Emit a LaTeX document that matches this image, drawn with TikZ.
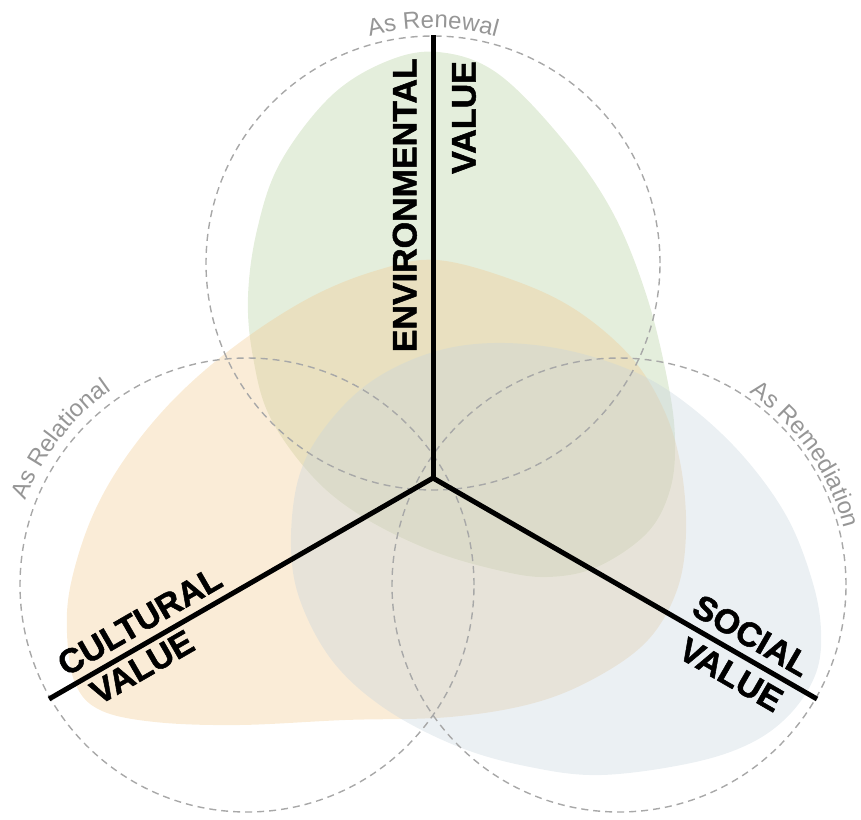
\documentclass[tikz,border=0pt]{standalone}
\usepackage{fontspec}
\setmainfont{Liberation Sans}
\newfontfamily\valuefont[FakeBold=1.5]{Liberation Sans Bold}
\usetikzlibrary{calc,decorations.text}
\definecolor{envgreen}{RGB}{178,206,155}
\definecolor{culturalorange}{RGB}{241,201,141}
\definecolor{socialblue}{RGB}{198,212,221}
\definecolor{ringgray}{RGB}{168,168,168}
\definecolor{tagtextgray}{RGB}{150,150,150}
\newcommand{\tagfont}{\fontsize{24}{24}\selectfont\color{tagtextgray}}

\begin{document}
\begin{tikzpicture}[x=1pt, y=1pt,
    blob/.style={fill=#1, fill opacity=0.35},
    ring/.style={draw=ringgray, line width=1.4pt, dash pattern=on 7pt off 5pt},
    axis/.style={line width=5pt},
    valuelabel/.style={font=\fontsize{34}{34}\valuefont, inner xsep=0pt, inner ysep=#1}]
    \useasboundingbox (0,0) rectangle (861,-819);

    \coordinate (O) at (433,-478);
    \coordinate (E) at (433,-35);
    \coordinate (C) at (49,-699);
    \coordinate (S) at (817,-699);

    \coordinate (T) at (433,-263);
    \coordinate (L) at (247,-585);
    \coordinate (R) at (619,-585);

    % the three value areas
    \fill[blob=envgreen] plot[smooth cycle, tension=0.6] coordinates {
        (438,-52) (497,-73) (563,-140) (613,-213) (647,-297) (668,-383)
        (675,-440) (670,-490) (647,-533) (597,-567) (547,-577) (497,-570)
        (430,-550) (363,-517) (313,-477) (270,-417) (253,-357) (248,-297)
        (257,-230) (280,-163) (330,-97) (385,-62)};
    \fill[blob=culturalorange] plot[smooth cycle, tension=0.6] coordinates {
        (437,-260) (513,-280) (576,-310) (631,-357) (664,-410) (681,-467)
        (686,-533) (677,-590) (648,-640) (597,-677) (534,-703) (450,-717)
        (345,-720) (239,-725) (155,-722) (100,-710) (75,-683) (67,-633)
        (71,-583) (92,-517) (126,-457) (176,-397) (239,-343) (311,-297)
        (378,-270)};
    \fill[blob=socialblue] plot[smooth cycle, tension=0.6] coordinates {
        (494,-343) (566,-350) (637,-373) (691,-407) (744,-457) (787,-517)
        (812,-580) (821,-630) (816,-673) (791,-713) (751,-743) (691,-763)
        (601,-775) (530,-767) (459,-747) (387,-710) (334,-663) (301,-603)
        (291,-547) (298,-480) (323,-430) (369,-383) (430,-353)};

    \draw[ring] (T) circle[radius=227];
    \draw[ring] (L) circle[radius=227];
    \draw[ring] (R) circle[radius=227];

    \path[decorate, decoration={text along path, text align=center,
        text={|\tagfont|As Renewal}}]
        ([shift={(110:235)}]T) arc[start angle=110, end angle=70, radius=235];
    \path[decorate, decoration={text along path, text align=center,
        text={|\tagfont|As Relational}}]
        ([shift={(166:237)}]L) arc[start angle=166, end angle=118, radius=237];
    \path[decorate, decoration={text along path, text align=center,
        text={|\tagfont|As Remediation}}]
        ([shift={(59:232)}]R) arc[start angle=59, end angle=11, radius=232];

    \draw[axis] (E) -- (O);
    \draw[axis] (C) -- (O) -- (S);

    \node[valuelabel=16pt, rotate=90, anchor=south east] (envname) at (433,-58) {ENVIRONMENTAL};
    \node[valuelabel=19pt, rotate=90, anchor=north east] (envvalue) at (433,-61) {VALUE};
    \node[valuelabel=10pt, rotate=30, anchor=south west] (culturalname) at ($(C)!26pt!(O)$) {CULTURAL};
    \node[valuelabel=7pt, rotate=30, anchor=north west] (culturalvalue) at ($(C)!40pt!(O)$) {VALUE};
    \node[valuelabel=10pt, rotate=-30, anchor=south east] (socialname) at ($(S)!24pt!(O)$) {SOCIAL};
    \node[valuelabel=10pt, rotate=-30, anchor=north east] (socialvalue) at ($(S)!30pt!(O)$) {VALUE};
\end{tikzpicture}
\end{document}
